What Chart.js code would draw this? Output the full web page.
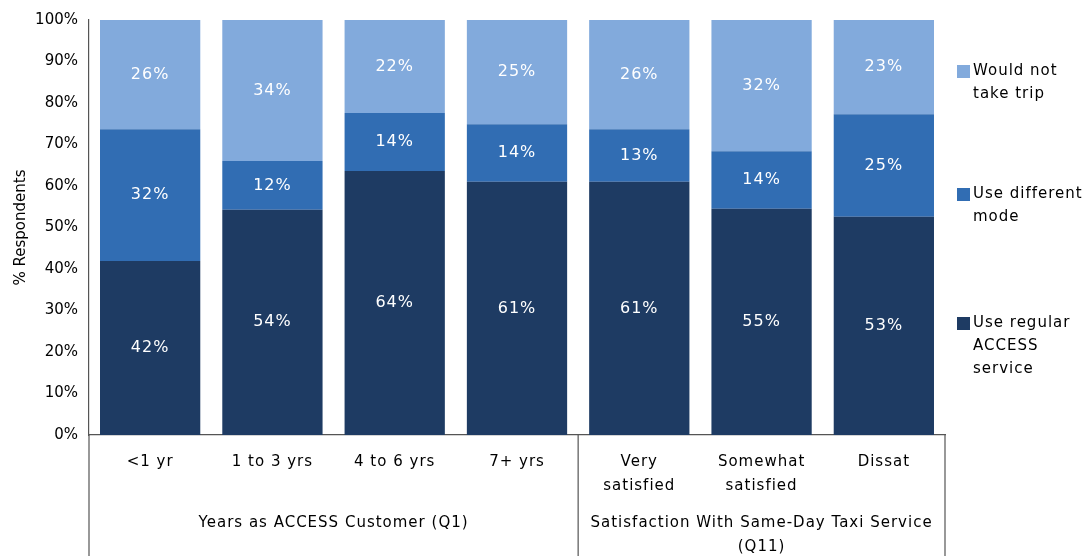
<!DOCTYPE html>
<html>
<head>
<meta charset="utf-8">
<script src="https://cdn.jsdelivr.net/npm/chart.js@4.4.1/dist/chart.umd.min.js"></script>
<style>
  html, body { margin: 0; padding: 0; background: #fff; }
  #wrap { width: 1091px; height: 556px; }
</style>
</head>
<body>
<div id="wrap"><canvas id="barChart" width="1091" height="556"></canvas></div>
<script>
const categories = [
  "<1 yr", "1 to 3 yrs", "4 to 6 yrs", "7+ yrs",
  ["Very", "satisfied"], ["Somewhat", "satisfied"], "Dissat"
];
const regularService = [41.9, 54.3, 63.6, 61.0, 61.0, 54.5, 52.6];
const differentMode = [31.8, 11.7, 14.0, 13.9, 12.7, 13.9, 24.7];
const notTakeTrip = [26.3, 34.0, 22.4, 25.1, 26.3, 31.6, 22.7];
const seriesNames = [
  ["Use regular", "ACCESS", "service"],
  ["Use different", "mode"],
  ["Would not", "take trip"]
];
const groups = [
  { label: ["Years as ACCESS Customer (Q1)"], from: 0, to: 3 },
  { label: ["Satisfaction With Same-Day Taxi Service", "(Q11)"], from: 4, to: 6 }
];
const yTicks = [0, 10, 20, 30, 40, 50, 60, 70, 80, 90, 100];

const colors = ["#1e3b63", "#316db3", "#82aadc"];
const FONT = "'DejaVu Sans', Verdana, sans-serif";
const axisColor = "#555";

// white % labels in the middle of each segment
const valueLabels = {
  id: "valueLabels",
  afterDatasetsDraw(chart) {
    const ctx = chart.ctx;
    ctx.save();
    ctx.letterSpacing = "1px";
    ctx.fillStyle = "#fff";
    ctx.font = "16px " + FONT;
    ctx.textAlign = "center";
    ctx.textBaseline = "middle";
    chart.data.datasets.forEach((ds, i) => {
      chart.getDatasetMeta(i).data.forEach((bar, j) => {
        const y = (bar.y + bar.base) / 2;
        ctx.fillText(Math.round(ds.data[j]) + "%", bar.x, y);
      });
    });
    ctx.restore();
  }
};

// category labels, group lines + group labels under the axis, legend on the right
const extras = {
  id: "extras",
  afterDraw(chart) {
    const ctx = chart.ctx;
    const area = chart.chartArea;
    const x = chart.scales.x;
    const H = chart.height;
    const step = (area.right - area.left) / categories.length;
    ctx.save();
    ctx.strokeStyle = axisColor;
    ctx.lineWidth = 1.2;
    ctx.beginPath();
    ctx.moveTo(area.left, area.bottom);
    ctx.lineTo(area.left, H);
    groups.forEach((g) => {
      const right = area.left + step * (g.to + 1);
      ctx.moveTo(right, area.bottom);
      ctx.lineTo(right, H);
    });
    ctx.stroke();

    ctx.letterSpacing = "1px";
    ctx.fillStyle = "#000";
    ctx.font = "15px " + FONT;
    ctx.textAlign = "center";
    ctx.textBaseline = "middle";
    categories.forEach((c, i) => {
      const lines = Array.isArray(c) ? c : [c];
      lines.forEach((line, k) => ctx.fillText(line, x.getPixelForValue(i), 462 + k * 24));
    });
    groups.forEach((g) => {
      const cx = area.left + step * (g.from + g.to + 1) / 2;
      g.label.forEach((line, k) => ctx.fillText(line, cx, 523 + k * 24));
    });

    // legend, top series first
    const legendY = [71, 194, 323];
    ctx.textAlign = "left";
    for (let i = 2; i >= 0; i--) {
      const y0 = legendY[2 - i];
      ctx.fillStyle = colors[i];
      ctx.fillRect(957, y0 - 6, 13, 13);
      ctx.fillStyle = "#000";
      seriesNames[i].forEach((line, k) => ctx.fillText(line, 973, y0 + k * 23));
    }
    ctx.restore();
  }
};

new Chart(document.getElementById("barChart").getContext("2d"), {
  type: "bar",
  data: {
    labels: categories,
    datasets: [
      { label: "Use regular ACCESS service", data: regularService, backgroundColor: colors[0] },
      { label: "Use different mode", data: differentMode, backgroundColor: colors[1] },
      { label: "Would not take trip", data: notTakeTrip, backgroundColor: colors[2] }
    ]
  },
  options: {
    responsive: false,
    animation: false,
    layout: { padding: { top: 15, right: 146, left: 0, bottom: 0 } },
    datasets: { bar: { barPercentage: 0.82, categoryPercentage: 1 } },
    plugins: {
      legend: { display: false },
      tooltip: { enabled: false }
    },
    scales: {
      x: {
        stacked: true,
        grid: { display: false, drawTicks: false },
        border: { color: axisColor, width: 1.2 },
        ticks: { display: false },
        afterFit(scale) { scale.height = 121; }
      },
      y: {
        stacked: true,
        min: 0,
        max: 100,
        afterBuildTicks(scale) { scale.ticks = yTicks.map((v) => ({ value: v })); },
        grid: { display: false, drawTicks: false },
        border: { color: axisColor, width: 1.2 },
        ticks: {
          color: "#000",
          font: { family: FONT, size: 15 },
          padding: 11,
          callback: (v) => v + "%"
        },
        title: {
          display: true,
          text: "% Respondents",
          color: "#000",
          font: { family: FONT, size: 15 },
          padding: { top: 12, bottom: 0 }
        },
        afterFit(scale) { scale.width = 89; }
      }
    }
  },
  plugins: [valueLabels, extras]
});
</script>
</body>
</html>
